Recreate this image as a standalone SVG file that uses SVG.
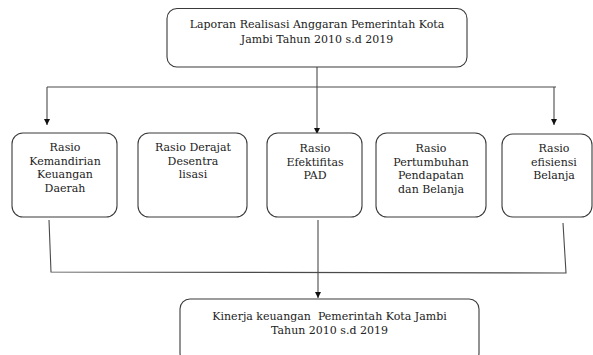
<svg xmlns="http://www.w3.org/2000/svg" width="593" height="355" viewBox="0 0 593 355">
<defs>
<style>
.box{fill:#fff;stroke:#3a3a3a;stroke-width:1.1}
.t{font-family:"DejaVu Serif","Liberation Serif",serif;font-size:11px;fill:#222;text-anchor:middle}
.c{fill:none;stroke:#4a4a4a;stroke-width:1.1}
</style>
<marker id="ah" viewBox="0 0 10 10" refX="10" refY="5" markerWidth="6" markerHeight="6" markerUnits="userSpaceOnUse" orient="auto">
<path d="M0,0 L10,5 L0,10 z" fill="#111"/>
</marker>
</defs>
<rect width="593" height="355" fill="#fff"/>
<g id="connectors">
<line class="c" x1="317" y1="67" x2="317" y2="134" marker-end="url(#ah)"/>
<line class="c" x1="47" y1="87" x2="556" y2="87"/>
<line class="c" x1="47" y1="87" x2="47" y2="125" marker-end="url(#ah)"/>
<line class="c" x1="554" y1="87" x2="554" y2="125" marker-end="url(#ah)"/>
<polyline class="c" points="49,220 51,272 566,273 563,223"/>
<line class="c" x1="318" y1="220" x2="318" y2="298" marker-end="url(#ah)"/>
</g>
<g id="top">
<rect class="box" x="167" y="8.5" width="300" height="58.5" rx="10"/>
<text class="t" x="317" y="28">Laporan Realisasi Anggaran Pemerintah Kota</text>
<text class="t" x="317" y="43">Jambi Tahun 2010 s.d 2019</text>
</g>
<g id="n1">
<rect class="box" x="12" y="133" width="105" height="84" rx="11"/>
<text class="t" x="65" y="151">Rasio</text>
<text class="t" x="65" y="164.5">Kemandirian</text>
<text class="t" x="65" y="178">Keuangan</text>
<text class="t" x="65" y="192">Daerah</text>
</g>
<g id="n2">
<rect class="box" x="138" y="133" width="109" height="84" rx="11"/>
<text class="t" x="193" y="151">Rasio Derajat</text>
<text class="t" x="193" y="164.5">Desentra</text>
<text class="t" x="193" y="178">lisasi</text>
</g>
<g id="n3">
<rect class="box" x="267" y="133" width="95" height="84" rx="11"/>
<text class="t" x="315" y="152">Rasio</text>
<text class="t" x="315" y="165.5">Efektifitas</text>
<text class="t" x="315" y="179">PAD</text>
</g>
<g id="n4">
<rect class="box" x="376" y="133" width="110" height="84" rx="11"/>
<text class="t" x="431" y="152">Rasio</text>
<text class="t" x="431" y="165.5">Pertumbuhan</text>
<text class="t" x="431" y="179">Pendapatan</text>
<text class="t" x="431" y="192.5">dan Belanja</text>
</g>
<g id="n5">
<rect class="box" x="502" y="134" width="90" height="83" rx="11"/>
<text class="t" x="554" y="152">Rasio</text>
<text class="t" x="554" y="165.5">efisiensi</text>
<text class="t" x="554" y="179">Belanja</text>
</g>
<g id="bottom">
<rect class="box" x="180" y="299" width="299" height="64" rx="10"/>
<text class="t" x="329.5" y="320" xml:space="preserve">Kinerja keuangan  Pemerintah Kota Jambi</text>
<text class="t" x="329.5" y="333.5">Tahun 2010 s.d 2019</text>
</g>
</svg>
